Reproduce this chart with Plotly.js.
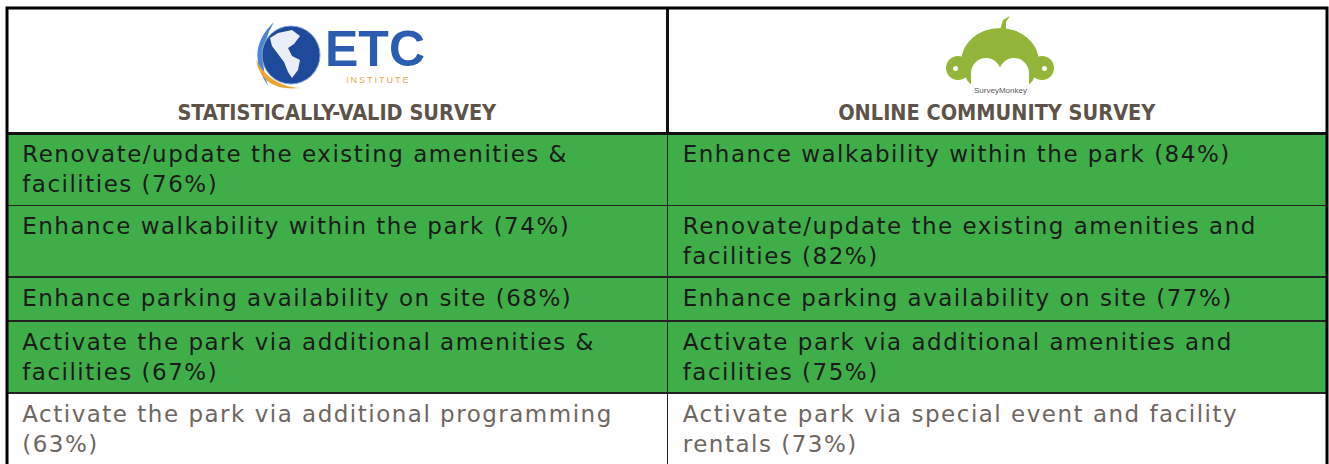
<!DOCTYPE html>
<html><head><meta charset="utf-8">
<script src="https://cdn.plot.ly/plotly-3.0.1.min.js"></script>
<style>
html,body{margin:0;padding:0;overflow:hidden;background:#fff;}
#chart{width:1329px;height:480px;}
</style></head><body><div id="chart"></div>
<script>
// ---------------- data ----------------
const columnTitles = ["STATISTICALLY-VALID SURVEY", "ONLINE COMMUNITY SURVEY"];
const statItems = [
  "Renovate/update the existing amenities & facilities",
  "Enhance walkability within the park",
  "Enhance parking availability on site",
  "Activate the park via additional amenities & facilities",
  "Activate the park via additional programming"
];
const statPct = [76, 74, 68, 67, 63];
const onlineItems = [
  "Enhance walkability within the park",
  "Renovate/update the existing amenities and facilities",
  "Enhance parking availability on site",
  "Activate park via additional amenities and facilities",
  "Activate park via special event and facility rentals"
];
const onlinePct = [84, 82, 77, 75, 73];
const highlighted = [true, true, true, true, false];
const logoTexts = ["ETC", "INSTITUTE", "SurveyMonkey"];

// ---------------- styling / layout ----------------
const W = 1329, H = 480;
const GREEN = '#3fae49';
const BODY_FONT = 'DejaVu Sans';
const BODY_SIZE = 23;
const LS = 1.5;            // letter spacing px
const MAXW = 612;          // wrap width
const PAD = '\u2005';
const NB = '\u00a0';

const cv = document.createElement('canvas').getContext('2d');
cv.font = BODY_SIZE + 'px "' + BODY_FONT + '"';
function textW(s){ return cv.measureText(s).width + LS * s.length; }
function esc(s){ return s.replace(/&/g,'&amp;'); }
function wrap(s){
  const words = s.split(' ');
  const lines = []; let cur = '';
  words.forEach(w => {
    const t = cur ? cur + ' ' + w : w;
    if (cur && textW(t) > MAXW) { lines.push(cur); cur = w; } else cur = t;
  });
  if (cur) lines.push(cur);
  const out = lines.map(l => '<span style="letter-spacing:' + LS + 'px">' + PAD + esc(l).split(' ').join(NB) + '</span>').join('<br>');
  return lines.length > 1 ? out : out + '<br>';
}
const leftCells = statItems.map((s,i) => wrap(s + ' (' + statPct[i] + '%)'));
const rightCells = onlineItems.map((s,i) => wrap(s + ' (' + onlinePct[i] + '%)'));
const fills = highlighted.map(h => h ? GREEN : '#ffffff');
const fcols = highlighted.map(h => h ? '#1b1b1b' : '#6e6660');

const px = x => x / W, py = y => 1 - y / H;

const headerVals = columnTitles.map(t =>
  [NB, NB, NB, NB].join('<br>') + '<br><b><span style="font-size:21.5px">' + t.split(' ').join(NB) + '</span></b>');

const trace = {
  type: 'table',
  domain: {x: [px(7), px(1327)], y: [0, py(8)]},
  columnwidth: [660, 659],
  header: {
    values: headerVals,
    align: 'center',
    height: 124,
    fill: {color: '#ffffff'},
    line: {color: '#111111', width: 2.5},
    font: {family: '"Liberation Sans Narrow", "DejaVu Sans Condensed", sans-serif', size: 17, color: '#5d5349'}
  },
  cells: {
    values: [leftCells, rightCells],
    align: 'left',
    height: 44,
    fill: {color: [fills, fills]},
    line: {color: '#222222', width: 1.5},
    font: {family: BODY_FONT, size: BODY_SIZE, color: [fcols, fcols]}
  }
};

const MONKEY = '#93b53a';
function P(pts){ return pts.map((p,i) => (i ? 'L' : 'M') + px(p[0]) + ',' + py(p[1])).join(' ') + ' Z'; }
const shapes = [
  // outer border
  {type:'rect', xref:'paper', yref:'paper', x0:px(7), x1:px(1327), y0:py(479), y1:py(8), line:{color:'#000', width:3}},
  // ETC swooshes
  {type:'path', xref:'paper', yref:'paper',
   path: 'M' + px(274) + ',' + py(22) + ' Q' + px(244) + ',' + py(50) + ' ' + px(268) + ',' + py(86) + ' Q' + px(256) + ',' + py(52) + ' ' + px(274) + ',' + py(22) + ' Z',
   fillcolor:'#4d86cf', line:{width:0}},
  {type:'path', xref:'paper', yref:'paper',
   path: 'M' + px(256) + ',' + py(60) + ' Q' + px(262) + ',' + py(92) + ' ' + px(300) + ',' + py(88) + ' Q' + px(270) + ',' + py(86) + ' ' + px(256) + ',' + py(60) + ' Z',
   fillcolor:'#eaa534', line:{width:0}},
  // globe
  {type:'circle', xref:'paper', yref:'paper', x0:px(262), x1:px(320), y0:py(84), y1:py(26), fillcolor:'#1f4a9c', line:{color:'#7fa3d8', width:1}},
  {type:'path', xref:'paper', yref:'paper',
   path: P([[278,33],[292,30],[300,36],[294,44],[288,48],[292,56],[300,60],[298,70],[292,78],[288,72],[284,62],[278,54],[272,46],[270,38]]),
   fillcolor:'#e9eef7', line:{width:0}},
  // monkey ears
  {type:'circle', xref:'paper', yref:'paper', x0:px(946), x1:px(970), y0:py(80), y1:py(56), fillcolor:MONKEY, line:{width:0}},
  {type:'circle', xref:'paper', yref:'paper', x0:px(1030), x1:px(1054), y0:py(80), y1:py(56), fillcolor:MONKEY, line:{width:0}},
  // monkey head
  {type:'circle', xref:'paper', yref:'paper', x0:px(961), x1:px(1039), y0:py(96), y1:py(28), fillcolor:MONKEY, line:{width:0}},
  // face
  {type:'circle', xref:'paper', yref:'paper', x0:px(971), x1:px(1001), y0:py(88), y1:py(58), fillcolor:'#ffffff', line:{width:0}},
  {type:'circle', xref:'paper', yref:'paper', x0:px(999), x1:px(1029), y0:py(88), y1:py(58), fillcolor:'#ffffff', line:{width:0}},
  {type:'rect', xref:'paper', yref:'paper', x0:px(971), x1:px(1029), y0:py(97), y1:py(74), fillcolor:'#ffffff', line:{width:0}},
  // ear dots
  {type:'circle', xref:'paper', yref:'paper', x0:px(953), x1:px(958), y0:py(71), y1:py(66), fillcolor:'#ffffff', line:{width:0}},
  {type:'circle', xref:'paper', yref:'paper', x0:px(1042), x1:px(1047), y0:py(71), y1:py(66), fillcolor:'#ffffff', line:{width:0}},
  // tuft
  {type:'path', xref:'paper', yref:'paper', path: P([[1000,30],[1003,20],[1010,16],[1006,22],[1006,30]]), fillcolor:MONKEY, line:{width:0}}
];

const annotations = [
  {xref:'paper', yref:'paper', x:px(375), y:py(49), text:'<b>' + logoTexts[0] + '</b>', showarrow:false,
   font:{family:'Liberation Sans', size:50, color:'#2a5db0'}, xanchor:'center', yanchor:'middle'},
  {xref:'paper', yref:'paper', x:px(378), y:py(80), text:'<span style="letter-spacing:2px">' + logoTexts[1] + '</span>', showarrow:false,
   font:{family:'Liberation Sans', size:9, color:'#d9aa55'}, xanchor:'center', yanchor:'middle'},
  {xref:'paper', yref:'paper', x:px(1000), y:py(90), text:logoTexts[2], showarrow:false,
   font:{family:'Liberation Sans', size:8, color:'#5b5b5b'}, xanchor:'center', yanchor:'middle'}
];

Plotly.newPlot('chart', [trace], {
  width: W, height: H,
  margin: {l:0, r:0, t:0, b:0, pad:0},
  paper_bgcolor: '#ffffff',
  showlegend: false,
  shapes: shapes,
  annotations: annotations
}, {displayModeBar: false, staticPlot: true});
</script></body></html>
